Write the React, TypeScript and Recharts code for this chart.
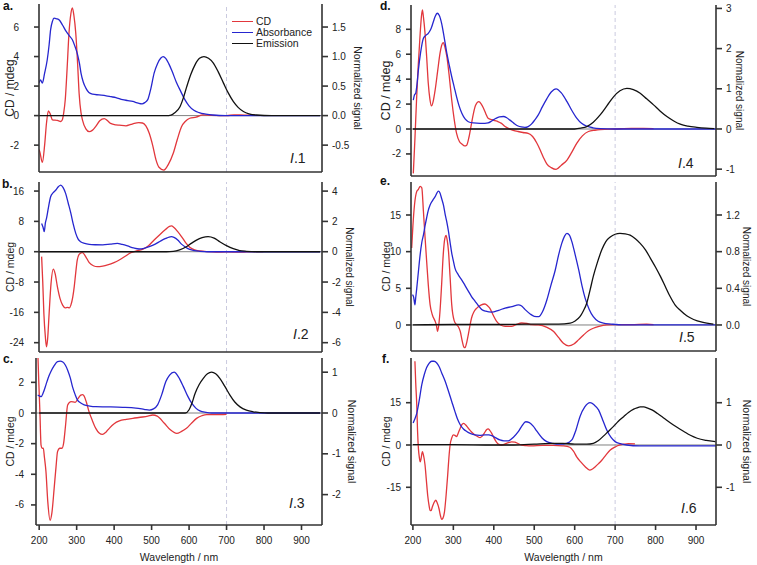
import React from 'react';
import { LineChart, Line, XAxis, YAxis, ReferenceLine, Legend } from 'recharts';

type Pt = [number, number];

const FONT = '"Liberation Sans", Arial, Helvetica, sans-serif';
const RED = '#e2373c';
const BLUE = '#2626cf';
const BLACK = '#111111';
const FRAME = '#333333';

const wavelengthTicks = [200, 300, 400, 500, 600, 700, 800, 900];

// a. I.1
const cdA: Pt[] = [[200, -2.3], [202, -2.44], [209, -3.17], [215, -2.0], [220, -0.5], [225, 0.32], [230, 0.1], [236, -0.29], [249, -0.33], [258, -0.4], [262, -0.3], [266, 0.2], [270, 1.07], [275, 3.2], [280, 5.6], [285, 6.9], [289, 7.3], [293, 6.8], [298, 5.6], [303, 3.5], [307, 1.5], [312, 0.2], [316, -0.3], [325, -0.9], [334, -1.09], [342, -1.0], [351, -0.74], [362, -0.35], [374, -0.2], [383, -0.35], [391, -0.53], [405, -0.63], [414, -0.65], [432, -0.69], [445, -0.6], [454, -0.53], [466, -0.48], [476, -0.5], [485, -0.7], [494, -1.2], [503, -2.0], [512, -3.0], [520, -3.5], [533, -3.69], [545, -3.3], [558, -2.55], [569, -1.6], [580, -0.75], [590, -0.4], [602, -0.18], [619, -0.1], [637, 0.05], [660, 0.02], [700, 0.0], [720, 0.05], [750, 0.03], [775, 0.05]];
const absA: Pt[] = [[200, 0.55], [204, 0.606], [209, 0.55], [215, 0.72], [222, 0.946], [227, 1.2], [231, 1.455], [236, 1.6], [240, 1.65], [247, 1.64], [254, 1.62], [263, 1.53], [272, 1.43], [281, 1.35], [289, 1.285], [296, 1.17], [303, 1.03], [308, 0.88], [312, 0.72], [318, 0.57], [325, 0.465], [333, 0.39], [343, 0.363], [360, 0.35], [379, 0.335], [392, 0.32], [405, 0.305], [423, 0.27], [437, 0.255], [450, 0.24], [465, 0.21], [475, 0.2], [482, 0.22], [490, 0.27], [498, 0.45], [507, 0.72], [516, 0.88], [525, 0.975], [531, 1.0], [538, 0.97], [546, 0.88], [555, 0.75], [566, 0.57], [578, 0.41], [589, 0.27], [600, 0.165], [613, 0.09], [627, 0.05], [645, 0.025], [663, 0.01], [700, 0], [950, 0]];
const emA: Pt[] = [[200, 0], [540, 0], [552, 0.01], [562, 0.05], [576, 0.15], [585, 0.3], [594, 0.49], [605, 0.7], [616, 0.86], [628, 0.97], [640, 1.0], [652, 0.97], [665, 0.89], [678, 0.74], [692, 0.55], [705, 0.38], [718, 0.24], [731, 0.14], [745, 0.07], [760, 0.03], [780, 0.01], [820, 0], [950, 0]];

// b. I.2
const cdB: Pt[] = [[207, -1.3], [210, -8], [213, -16.3], [217, -22.5], [220, -25.1], [223, -23], [227, -16.3], [232, -8.5], [238, -4.6], [243, -5.8], [249, -9.2], [256, -12.3], [263, -14.1], [270, -14.8], [276, -14.7], [281, -14.8], [285, -14.1], [290, -12], [294, -9.2], [298, -5.5], [302, -2.2], [308, -0.6], [316, -0.26], [324, -1.2], [334, -2.9], [345, -3.7], [356, -3.96], [370, -3.8], [383, -3.5], [400, -2.9], [414, -2.2], [430, -1.2], [445, -0.26], [460, 0.2], [476, 0.6], [492, 1.6], [507, 3.1], [522, 4.5], [538, 5.9], [548, 6.7], [553, 6.8], [560, 6.4], [570, 5.3], [580, 4.0], [591, 2.4], [602, 1.2], [615, 0.5], [629, 0.2], [650, 0], [673, -0.1], [700, -0.05], [740, -0.1], [770, 0], [798, 0]];
const absB: Pt[] = [[207, 1.87], [211, 1.6], [214, 1.32], [217, 1.9], [220, 2.2], [225, 2.9], [231, 3.63], [238, 3.9], [245, 4.07], [252, 4.3], [258, 4.4], [264, 4.25], [271, 3.85], [278, 3.2], [285, 2.53], [291, 1.85], [298, 1.21], [304, 0.85], [311, 0.66], [322, 0.55], [334, 0.49], [350, 0.46], [370, 0.45], [390, 0.5], [409, 0.55], [422, 0.48], [436, 0.38], [452, 0.25], [467, 0.18], [480, 0.22], [494, 0.33], [510, 0.5], [525, 0.72], [538, 0.88], [547, 0.97], [553, 0.99], [560, 0.95], [570, 0.78], [580, 0.5], [591, 0.3], [602, 0.15], [615, 0.07], [629, 0.03], [650, 0], [950, 0]];
const emB: Pt[] = [[200, 0], [540, 0], [558, 0.02], [575, 0.12], [593, 0.33], [606, 0.55], [620, 0.77], [635, 0.93], [651, 1.0], [667, 0.9], [682, 0.66], [700, 0.4], [718, 0.2], [735, 0.08], [753, 0.03], [780, 0], [950, 0]];

// c. I.3
const cdC: Pt[] = [[196, 4.2], [199, 2.0], [202, 0], [205, -2.1], [208, -2.3], [211, -2.3], [214, -2.9], [218, -3.8], [223, -5.8], [229, -7.0], [234, -6.5], [240, -4.9], [245, -3.5], [249, -2.52], [255, -2.3], [261, -2.3], [265, -2.0], [270, -0.9], [276, 0.52], [285, 0.74], [296, 0.7], [304, 0.95], [311, 1.17], [316, 1.2], [320, 1.1], [326, 0.7], [333, 0.09], [342, -0.5], [351, -1.0], [360, -1.3], [369, -1.39], [378, -1.25], [387, -1.0], [400, -0.7], [414, -0.52], [432, -0.42], [450, -0.35], [476, -0.26], [490, -0.2], [503, -0.13], [515, -0.2], [534, -0.67], [550, -1.1], [567, -1.33], [580, -1.2], [593, -1.0], [607, -0.65], [620, -0.35], [634, -0.18], [647, -0.1], [670, -0.1], [700, -0.08]];
const absC: Pt[] = [[196, 0.44], [200, 0.42], [205, 0.4], [211, 0.5], [218, 0.69], [224, 0.86], [231, 1.01], [240, 1.16], [249, 1.26], [256, 1.27], [263, 1.25], [270, 1.17], [276, 1.05], [283, 0.86], [289, 0.64], [296, 0.45], [302, 0.32], [310, 0.25], [320, 0.2], [335, 0.17], [351, 0.155], [380, 0.15], [423, 0.14], [458, 0.12], [480, 0.09], [494, 0.07], [505, 0.1], [516, 0.2], [527, 0.45], [538, 0.77], [548, 0.93], [560, 1.0], [572, 0.88], [585, 0.64], [596, 0.42], [607, 0.24], [618, 0.12], [629, 0.05], [645, 0.015], [660, 0], [950, 0]];
const emC: Pt[] = [[200, 0], [590, 0], [600, 0.08], [608, 0.25], [616, 0.48], [627, 0.7], [638, 0.85], [649, 0.96], [660, 1.0], [671, 0.96], [682, 0.85], [695, 0.66], [709, 0.44], [722, 0.27], [736, 0.15], [753, 0.07], [771, 0.03], [790, 0.01], [810, 0], [950, 0]];

// d. I.4
const cdD: Pt[] = [[201, -3.56], [205, -0.8], [209, 2.33], [213, 5.0], [218, 7.68], [221, 9.0], [223.5, 9.55], [226, 9.0], [230, 7.68], [234, 5.8], [238, 3.67], [242, 2.4], [246, 1.85], [250, 2.2], [255, 3.13], [261, 4.6], [267, 6.07], [271, 6.7], [275, 6.93], [279, 6.6], [284, 5.8], [290, 4.2], [296, 2.33], [302, 0.8], [308, -0.35], [315, -1.0], [321, -1.2], [328, -1.36], [333, -1.3], [339, -0.6], [345, 0.46], [350, 1.3], [355, 1.9], [363, 2.19], [369, 2.0], [374, 1.71], [380, 1.25], [386, 0.86], [395, 0.75], [403, 0.67], [410, 0.6], [419, 0.45], [428, 0.2], [436, 0.05], [448, -0.1], [460, -0.2], [472, -0.28], [485, -0.35], [496, -0.6], [506, -1.1], [515, -1.7], [523, -2.3], [531, -2.8], [542, -3.1], [554, -3.24], [567, -2.9], [581, -2.49], [593, -1.85], [605, -1.15], [619, -0.55], [634, -0.2], [650, -0.1], [663, -0.05], [700, 0], [740, 0.05], [770, 0.05], [795, 0.03]];
const absD: Pt[] = [[201, 0.72], [204, 0.85], [207, 0.89], [210, 1.1], [213.6, 1.47], [219, 1.9], [226, 2.26], [232, 2.33], [238, 2.38], [245, 2.5], [250.6, 2.67], [255, 2.8], [260, 2.88], [265, 2.83], [271, 2.63], [277, 2.3], [284, 1.88], [290, 1.58], [296, 1.3], [302, 1.05], [308, 0.8], [314, 0.58], [321, 0.39], [329, 0.25], [337, 0.18], [350, 0.15], [366, 0.14], [378, 0.14], [386, 0.15], [395, 0.2], [404.6, 0.26], [414, 0.3], [424, 0.31], [432, 0.28], [440, 0.22], [450, 0.14], [460, 0.075], [468, 0.05], [477, 0.04], [485, 0.06], [493, 0.12], [501, 0.22], [510, 0.35], [520, 0.55], [531, 0.75], [542, 0.92], [554, 1.0], [567, 0.9], [581, 0.68], [593, 0.46], [605, 0.27], [617, 0.14], [630, 0.07], [645, 0.03], [663, 0.01], [700, 0], [950, 0]];
const emD: Pt[] = [[200, 0], [600, 0], [615, 0.02], [630, 0.06], [646, 0.17], [663, 0.35], [680, 0.58], [696, 0.8], [712, 0.95], [729, 1.01], [745, 0.98], [762, 0.89], [778, 0.75], [795, 0.6], [811, 0.45], [828, 0.31], [845, 0.2], [861, 0.12], [880, 0.07], [902, 0.04], [925, 0.02], [945, 0.01]];

// e. I.5
const cdE: Pt[] = [[197, 10.5], [200, 13.5], [204, 16.4], [209.5, 18.2], [213.6, 18.5], [218, 18.9], [222, 18.7], [226, 15.5], [230, 12], [234, 8.7], [238, 5.5], [242.5, 2.77], [248, 1.4], [255, 0.5], [258, 0], [261, -0.86], [264, 0], [267, 1.87], [271, 5.5], [275, 9.6], [279, 11.8], [282, 12.2], [285, 11.5], [288, 10.05], [292, 6.5], [296, 2.77], [302, 0.6], [308, 0.04], [313, -0.3], [317, -0.86], [322, -2.2], [326, -3.0], [329, -3.1], [333, -2.4], [337, -1.3], [341, -0.1], [345, 0.95], [351, 1.8], [358, 2.3], [368, 2.7], [378, 2.86], [385, 2.6], [390, 2.3], [398, 1.4], [407, 0.5], [417, 0.0], [428, -0.18], [444, -0.18], [455, 0.05], [469, 0.27], [482, 0.2], [494, 0.05], [510, 0], [530, -0.3], [548, -0.9], [560, -1.7], [572, -2.5], [585, -2.86], [598, -2.6], [610, -2.0], [622, -1.36], [634, -0.8], [646, -0.45], [660, -0.2], [679, 0], [700, 0.05], [740, 0.05], [778, 0.1], [795, 0.05]];
const absE: Pt[] = [[199, 0.33], [202, 0.3], [205, 0.22], [207, 0.3], [209.5, 0.4], [214, 0.6], [218, 0.77], [222, 0.9], [226, 0.98], [230, 1.08], [234, 1.17], [238, 1.25], [242.5, 1.31], [249, 1.36], [255, 1.4], [263, 1.46], [267, 1.44], [271, 1.38], [276, 1.3], [280, 1.2], [284, 1.12], [288, 1.02], [292, 0.9], [296, 0.785], [300, 0.7], [304, 0.62], [312, 0.55], [321, 0.49], [329, 0.43], [337, 0.37], [345, 0.31], [353.5, 0.26], [362, 0.21], [370, 0.17], [380, 0.15], [395, 0.14], [412, 0.16], [428, 0.185], [445, 0.2], [461, 0.22], [468, 0.21], [477, 0.17], [490, 0.12], [500, 0.095], [511, 0.09], [521, 0.15], [531, 0.27], [541, 0.43], [552, 0.6], [560, 0.76], [568, 0.89], [575, 0.97], [581, 1.0], [587, 0.98], [593, 0.91], [601, 0.77], [610, 0.6], [618, 0.43], [626, 0.29], [636, 0.17], [646, 0.09], [658, 0.04], [671, 0.02], [690, 0.01], [720, 0], [950, 0]];
const emE: Pt[] = [[200, 0], [300, 0.005], [400, 0.005], [480, 0.01], [520, 0.01], [560, 0.01], [589, 0.02], [600, 0.04], [613, 0.09], [621, 0.15], [630, 0.24], [638, 0.38], [646, 0.53], [656, 0.68], [667, 0.82], [677, 0.91], [688, 0.96], [700, 0.99], [712, 1.0], [725, 0.995], [737, 0.98], [750, 0.94], [762, 0.89], [775, 0.82], [787, 0.73], [800, 0.63], [812, 0.53], [824, 0.42], [836, 0.31], [848, 0.22], [861, 0.16], [877, 0.1], [894, 0.06], [915, 0.03], [943, 0.01]];

// f. I.6
const cdF: Pt[] = [[205, 29.7], [207, 22], [209.5, 14.3], [211.5, 5], [213.6, -1.2], [216, -4.5], [218, -6.0], [220, -5.0], [223.5, -2.4], [226, -3.5], [230, -7.1], [233, -12], [236.6, -17.9], [240, -21.5], [242.5, -23.2], [245, -23.3], [248, -22], [252, -20.5], [256.4, -19.6], [260, -20.5], [264.6, -22.6], [268, -25], [271, -26.4], [274, -26], [278, -23.8], [282, -18], [286, -10.7], [289, -4.5], [292, 0], [296, 2.5], [300, 3.57], [304, 3.4], [308, 3.0], [312, 4.2], [317, 5.95], [321, 7.2], [325, 7.7], [330, 7.2], [337, 5.95], [345, 4.6], [353.5, 3.57], [360, 3.0], [366, 2.6], [371, 3.1], [376.6, 4.2], [382, 5.4], [386, 5.7], [390, 5.2], [394.6, 4.2], [400, 2.6], [407, 0.95], [413, 0.2], [419, 0], [428, 0.4], [436, 0.8], [444, 1.1], [452, 1.0], [460, 0.5], [469, 0], [480, -0.2], [493, -0.3], [520, -0.1], [547, -0.1], [570, -0.3], [588, -0.8], [597, -2.2], [605, -4.2], [615, -6.0], [626, -7.7], [637, -8.9], [644, -8.5], [651, -7.7], [659, -6.6], [667, -5.4], [677, -3.6], [688, -1.8], [700, -0.7], [712, 0], [722, 0.3], [733, 0.5], [749, 0.4]];
const absF: Pt[] = [[200.6, 0.52], [205, 0.62], [209.5, 0.75], [215, 1.02], [222, 1.43], [228, 1.66], [234, 1.83], [240, 1.93], [246.5, 1.98], [252, 1.98], [259, 1.94], [265, 1.85], [271, 1.71], [280, 1.5], [288, 1.27], [296, 1.03], [304, 0.79], [310, 0.62], [317, 0.48], [325, 0.38], [333, 0.32], [343, 0.27], [353.5, 0.24], [365, 0.23], [378, 0.24], [388, 0.24], [395, 0.22], [405, 0.17], [415, 0.12], [425, 0.1], [436, 0.1], [448, 0.18], [461, 0.32], [470, 0.46], [479, 0.55], [488, 0.53], [498, 0.44], [504, 0.36], [510, 0.28], [520, 0.16], [531, 0.08], [545, 0.04], [564, 0.02], [580, 0.04], [593, 0.12], [603, 0.35], [613, 0.67], [625, 0.9], [638, 1.0], [648, 0.95], [659, 0.83], [669, 0.6], [679, 0.36], [690, 0.18], [700, 0.08], [713, 0.03], [729, 0], [760, -0.02], [950, -0.02]];
const emF: Pt[] = [[200, 0.01], [300, 0.01], [400, 0.0], [450, 0.0], [500, 0.02], [540, 0.04], [570, 0.04], [600, 0.02], [630, 0.02], [646, 0.04], [658, 0.1], [671, 0.21], [683, 0.32], [696, 0.44], [708, 0.56], [721, 0.67], [733, 0.77], [746, 0.85], [754, 0.88], [762, 0.9], [771, 0.9], [779, 0.88], [791, 0.83], [804, 0.75], [820, 0.64], [837, 0.52], [853, 0.42], [870, 0.32], [886, 0.23], [903, 0.16], [925, 0.11], [948, 0.08]];

// axis ticks
const cdTicksA = [-2, 0, 2, 4, 6];
const nTicksA = [-0.5, 0, 0.5, 1, 1.5];
const cdTicksB = [-24, -16, -8, 0, 8, 16];
const nTicksB = [-6, -4, -2, 0, 2, 4];
const cdTicksC = [-6, -4, -2, 0, 2];
const nTicksC = [-2, -1, 0, 1];
const cdTicksD = [-2, 0, 2, 4, 6, 8];
const nTicksD = [-1, 0, 1, 2, 3];
const cdTicksE = [0, 5, 10, 15];
const nTicksE = [0, 0.4, 0.8, 1.2];
const cdTicksF = [-15, 0, 15];
const nTicksF = [-1, 0, 1];

interface PanelDef {
  letter: string;
  tag: string;
  left: number;
  top: number;
  w: number;
  h: number;
  axisW: number;
  rightW: number;
  xH: number;
  xTick: number;
  showX: boolean;
  xDomain: [number, number];
  cdDomain: [number, number];
  nDomain: [number, number];
  cdTicks: number[];
  nTicks: number[];
  nDigits: number;
  cdMargin: number;
  cdTitleSize: number;
  nTitleSize: number;
  nTitleOffset: number;
  letterPos: [number, number];
  tagPos: [number, number];
  legend?: boolean;
  cd: Pt[];
  abs: Pt[];
  em: Pt[];
}

const panels: PanelDef[] = [
  {
    letter: 'a.', tag: '1', left: 39, top: 4, w: 283, h: 168, axisW: 39, rightW: 44, xH: 8, xTick: 8, showX: false,
    xDomain: [200, 954.7], cdDomain: [-3.82, 7.56], nDomain: [-0.955, 1.89], cdTicks: cdTicksA, nTicks: nTicksA, nDigits: 1,
    cdMargin: 15, cdTitleSize: 12, nTitleSize: 10.5, nTitleOffset: 8, letterPos: [3, 0], tagPos: [290, 151], legend: true,
    cd: cdA, abs: absA, em: emA,
  },
  {
    letter: 'b.', tag: '2', left: 39, top: 182, w: 283, h: 170, axisW: 39, rightW: 44, xH: 6, xTick: 6, showX: false,
    xDomain: [200, 954.7], cdDomain: [-26.46, 18.39], nDomain: [-6.615, 4.6], cdTicks: cdTicksB, nTicks: nTicksB, nDigits: 0,
    cdMargin: 10, cdTitleSize: 10.5, nTitleSize: 10, nTitleOffset: 16, letterPos: [2, 178], tagPos: [293, 327],
    cd: cdB, abs: absB, em: emB,
  },
  {
    letter: 'c.', tag: '3', left: 36, top: 358, w: 286, h: 167, axisW: 36, rightW: 44, xH: 40, xTick: 5, showX: true,
    xDomain: [191.5, 954.7], cdDomain: [-7.31, 3.59], nDomain: [-2.745, 1.348], cdTicks: cdTicksC, nTicks: nTicksC, nDigits: 0,
    cdMargin: 7, cdTitleSize: 10.5, nTitleSize: 10.5, nTitleOffset: 14, letterPos: [3, 353], tagPos: [289, 496],
    cd: cdC, abs: absC, em: emC,
  },
  {
    letter: 'd.', tag: '4', left: 411, top: 5, w: 305, h: 171, axisW: 35, rightW: 40, xH: 6, xTick: 6, showX: false,
    xDomain: [195.3, 949.4], cdDomain: [-3.77, 9.95], nDomain: [-1.17, 3.085], cdTicks: cdTicksD, nTicks: nTicksD, nDigits: 0,
    cdMargin: 5, cdTitleSize: 12.5, nTitleSize: 10, nTitleOffset: 16, letterPos: [380, 0], tagPos: [678, 156],
    cd: cdD, abs: absD, em: emD,
  },
  {
    letter: 'e.', tag: '5', left: 411, top: 182, w: 305, h: 169, axisW: 35, rightW: 40, xH: 7, xTick: 7, showX: false,
    xDomain: [195.3, 949.4], cdDomain: [-3.55, 19.5], nDomain: [-0.284, 1.56], cdTicks: cdTicksE, nTicks: nTicksE, nDigits: 1,
    cdMargin: 5, cdTitleSize: 10.5, nTitleSize: 10, nTitleOffset: 9, letterPos: [380, 175], tagPos: [679, 330],
    cd: cdE, abs: absE, em: emE,
  },
  {
    letter: 'f.', tag: '6', left: 411, top: 358, w: 305, h: 167, axisW: 35, rightW: 40, xH: 40, xTick: 5, showX: true,
    xDomain: [195.3, 949.4], cdDomain: [-28.37, 30.85], nDomain: [-1.891, 2.057], cdTicks: cdTicksF, nTicks: nTicksF, nDigits: 0,
    cdMargin: 5, cdTitleSize: 10.5, nTitleSize: 10.5, nTitleOffset: 9, letterPos: [382, 353], tagPos: [681, 501],
    cd: cdF, abs: absF, em: emF,
  },
];

const rows = (pts: Pt[]) => pts.map(([x, y]) => ({ x, y }));

const tickStyle = { fill: '#222', fontSize: 10, fontFamily: FONT };

// legend keeps the plotting order, not alphabetical
const legendItems = [
  { value: 'CD', color: RED },
  { value: 'Absorbance', color: BLUE },
  { value: 'Emission', color: BLACK },
];

const renderLegend = () => (
  <div style={{ fontFamily: FONT, fontSize: 10.5, lineHeight: '11px', color: '#222' }}>
    {legendItems.map((it) => (
      <div key={it.value} style={{ display: 'flex', alignItems: 'center', whiteSpace: 'nowrap' }}>
        <span style={{ display: 'inline-block', width: 21, height: 0, borderTop: `1.5px solid ${it.color}`, marginRight: 3 }} />
        {it.value}
      </div>
    ))}
  </div>
);

const Panel: React.FC<{ p: PanelDef }> = ({ p }) => {
  const width = p.axisW + p.w + p.rightW;
  const height = 4 + p.h + p.xH;
  return (
    <>
      <div style={{ position: 'absolute', left: p.left - p.axisW, top: p.top - 4 }}>
        <LineChart width={width} height={height} margin={{ top: 4, right: 0, bottom: 0, left: 0 }}>
          <XAxis
            xAxisId="b"
            dataKey="x"
            type="number"
            domain={p.xDomain}
            ticks={wavelengthTicks}
            interval={0}
            allowDataOverflow
            height={p.xH}
            stroke={FRAME}
            strokeWidth={1.6}
            tickSize={p.xTick}
            tickMargin={7}
            tick={p.showX ? tickStyle : false}
            label={p.showX ? { value: 'Wavelength / nm', position: 'insideBottom', offset: 4, style: { fill: '#222', fontSize: 10.5, fontFamily: FONT } } : undefined}
          />
          <XAxis xAxisId="t" orientation="top" dataKey="x" type="number" domain={p.xDomain} allowDataOverflow height={0} tick={false} tickLine={false} stroke={FRAME} strokeWidth={1.6} />
          <YAxis
            yAxisId="cd"
            type="number"
            domain={p.cdDomain}
            ticks={p.cdTicks}
            interval={0}
            allowDataOverflow
            width={p.axisW}
            stroke={FRAME}
            strokeWidth={1.6}
            tickSize={5}
            tickMargin={p.cdMargin}
            tick={tickStyle}
            label={{ value: 'CD / mdeg', angle: -90, position: 'insideLeft', offset: 10, style: { textAnchor: 'middle', fill: '#222', fontSize: p.cdTitleSize, fontFamily: FONT } }}
          />
          <YAxis
            yAxisId="n"
            orientation="right"
            type="number"
            domain={p.nDomain}
            ticks={p.nTicks}
            interval={0}
            allowDataOverflow
            width={p.rightW}
            stroke={FRAME}
            strokeWidth={1.6}
            tickSize={6}
            tickMargin={4}
            tick={tickStyle}
            tickFormatter={(v: number) => v.toFixed(p.nDigits)}
            label={{ value: 'Normalized signal', angle: 90, position: 'insideRight', offset: p.nTitleOffset, style: { textAnchor: 'middle', fill: '#222', fontSize: p.nTitleSize, fontFamily: FONT } }}
          />
          <ReferenceLine xAxisId="b" yAxisId="cd" x={700} stroke="#cacadf" strokeDasharray="4 3" />
          <ReferenceLine xAxisId="b" yAxisId="cd" y={0} stroke="#808080" strokeWidth={1} />
          <Line xAxisId="b" yAxisId="cd" data={rows(p.cd)} dataKey="y" name="CD" type="monotone" stroke={RED} strokeWidth={1.3} dot={false} activeDot={false} isAnimationActive={false} />
          <Line xAxisId="b" yAxisId="n" data={rows(p.abs)} dataKey="y" name="Absorbance" type="monotone" stroke={BLUE} strokeWidth={1.3} dot={false} activeDot={false} isAnimationActive={false} />
          <Line xAxisId="b" yAxisId="n" data={rows(p.em)} dataKey="y" name="Emission" type="monotone" stroke={BLACK} strokeWidth={1.3} dot={false} activeDot={false} isAnimationActive={false} />
          {p.legend && (
            <Legend layout="vertical" align="center" verticalAlign="middle" content={renderLegend} wrapperStyle={{ left: 232, top: 16, width: 'auto', height: 'auto' }} />
          )}
        </LineChart>
      </div>
      <div style={{ position: 'absolute', left: p.letterPos[0], top: p.letterPos[1], fontFamily: FONT, fontWeight: 'bold', fontSize: 12, lineHeight: '12px', color: '#111' }}>
        {p.letter}
      </div>
      <div style={{ position: 'absolute', left: p.tagPos[0], top: p.tagPos[1], fontFamily: FONT, fontSize: 14, lineHeight: '14px', color: '#222' }}>
        <i>I</i>.{p.tag}
      </div>
    </>
  );
};

const App: React.FC = () => (
  <div style={{ position: 'absolute', left: 0, top: 0, width: 757, height: 565, background: '#fff', overflow: 'hidden', fontFamily: FONT }}>
    {panels.map((p) => (
      <Panel key={p.letter} p={p} />
    ))}
  </div>
);

export default App;
